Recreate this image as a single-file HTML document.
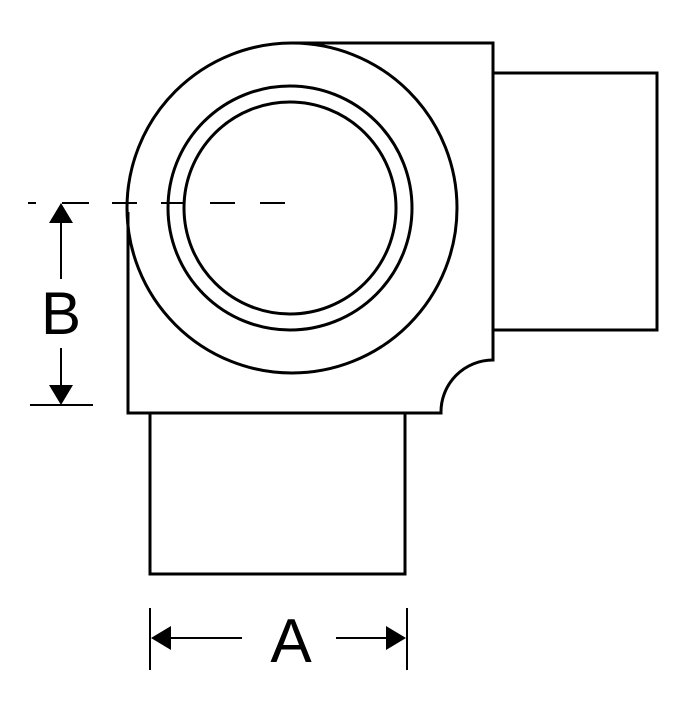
<!DOCTYPE html>
<html><head><style>html,body{margin:0;padding:0;background:#fff;}</style></head>
<body>
<svg width="700" height="700" viewBox="0 0 700 700" xmlns="http://www.w3.org/2000/svg">
<g fill="none" stroke="#000" stroke-width="3">
<rect x="493" y="73" width="164" height="257"/>
<rect x="150" y="413" width="255" height="161"/>
<path d="M292 43 H493 V360 A52 52 0 0 0 441 413 H128 V212"/>
<circle cx="292" cy="208" r="165"/>
<circle cx="290" cy="208" r="122"/>
<circle cx="290" cy="208" r="106"/>
<g stroke-width="2">
<line x1="28" y1="203" x2="36" y2="203"/>
<line x1="62" y1="203" x2="89" y2="203"/>
<line x1="112" y1="203" x2="137" y2="203"/>
<line x1="161" y1="203" x2="185" y2="203"/>
<line x1="210" y1="203" x2="235" y2="203"/>
<line x1="260" y1="203" x2="285" y2="203"/>
</g>
<line x1="30" y1="405" x2="93" y2="405" stroke-width="2"/>
<line x1="61" y1="220" x2="61" y2="279" stroke-width="2"/>
<line x1="61" y1="348" x2="61" y2="388" stroke-width="2"/>
<line x1="150" y1="608" x2="150" y2="670" stroke-width="2"/>
<line x1="407" y1="608" x2="407" y2="670" stroke-width="2"/>
<line x1="165" y1="638" x2="242" y2="638" stroke-width="2"/>
<line x1="336" y1="638" x2="392" y2="638" stroke-width="2"/>
</g>
<g fill="#000">
<polygon points="61,203 49,223 73,223"/>
<polygon points="61,405 49,385 73,385"/>
<polygon points="151,638 171,626 171,650"/>
<polygon points="406,638 386,626 386,650"/>
</g>
<text x="61" y="334" font-family="Liberation Sans, sans-serif" font-size="60" text-anchor="middle">B</text>
<text x="291" y="662" font-family="Liberation Sans, sans-serif" font-size="62" text-anchor="middle">A</text>
</svg>
</body></html>
